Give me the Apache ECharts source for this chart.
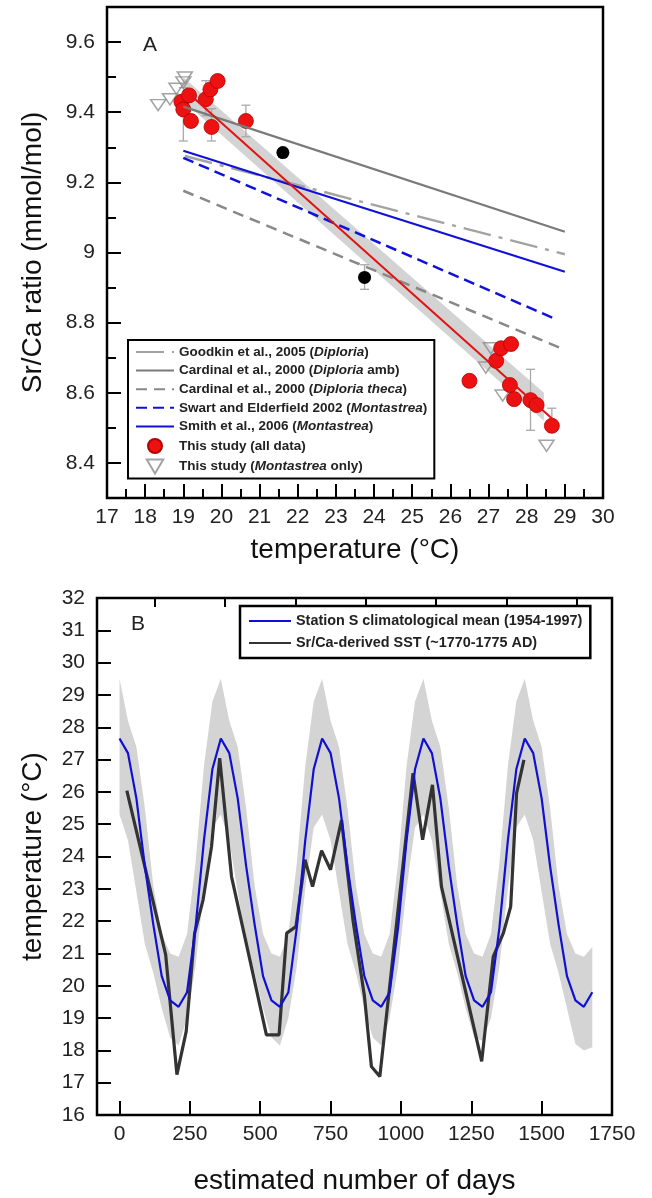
<!DOCTYPE html>
<html>
<head>
<meta charset="UTF-8">
<title>Sr/Ca calibration and derived SST</title>
<script src="https://cdn.jsdelivr.net/npm/echarts@6/dist/echarts.min.js"></script>
<style>
  html,body{margin:0;background:#fff;}
  #chart{width:652px;height:1198px;}
</style>
</head>
<body>
<div id="chart"></div>
<script>
// ---- panel A: Sr/Ca vs temperature ----
const allT = [18.95, 19.0, 19.15, 19.2, 19.59, 19.71, 19.9, 19.74, 20.64, 26.5, 27.2, 27.33, 27.59, 27.56, 27.67, 28.1, 28.26, 28.66];
const allV = [9.43, 9.408, 9.448, 9.375, 9.437, 9.465, 9.489, 9.358, 9.375, 8.634, 8.691, 8.727, 8.739, 8.622, 8.582, 8.579, 8.565, 8.506];
const montT = [18.34, 18.65, 18.82, 19.0, 19.04, 26.93, 27.06, 27.37, 28.52];
const montV = [9.42, 9.437, 9.467, 9.485, 9.499, 8.672, 8.727, 8.592, 8.449];
const blackT = [21.61, 23.75];
const blackV = [9.285, 8.929];
const errT  = [19.0, 19.59, 19.74, 20.64, 23.75, 28.1, 28.66];
const errLo = [9.318, 9.39, 9.318, 9.33, 8.895, 8.493, 8.489];
const errHi = [9.47, 9.49, 9.41, 9.42, 8.965, 8.667, 8.556];
const fitT = [19.2, 28.75];
const fitV = [9.448, 8.518];
const bandT  = [19.0, 28.45];
const bandLo = [9.432, 8.52];
const bandHi = [9.50, 8.60];
const goodkin = [[19.04, 9.275], [29.0, 8.995]];
const cardAmb = [[19.0, 9.416], [29.0, 9.059]];
const cardTheca = [[19.0, 9.176], [28.9, 8.727]];
const swart = [[19.0, 9.27], [28.72, 8.812]];
const smith = [[19.0, 9.29], [29.0, 8.945]];
const aMajorY = [8.4, 8.6, 8.8, 9.0, 9.2, 9.4, 9.6];

// ---- panel B: seasonal cycles ----
const bDays = [0,30,60,90,120,150,180,210,240,270,300,330,
  360,390,420,450,480,510,540,570,600,630,660,690,
  720,750,780,810,840,870,900,930,960,990,1020,1050,
  1080,1110,1140,1170,1200,1230,1260,1290,1320,1350,1380,1410,
  1440,1470,1500,1530,1560,1590,1620,1650,1680];
const climMean = [27.65,27.2,25.8,23.7,21.9,20.3,19.55,19.35,19.8,21.8,24.5,26.7,
  27.65,27.2,25.8,23.7,21.9,20.3,19.55,19.35,19.8,21.8,24.5,26.7,
  27.65,27.2,25.8,23.7,21.9,20.3,19.55,19.35,19.8,21.8,24.5,26.7,
  27.65,27.2,25.8,23.7,21.9,20.3,19.55,19.35,19.8,21.8,24.5,26.7,
  27.65,27.2,25.8,23.7,21.9,20.3,19.55,19.35,19.8];
const climUp = [29.5,28.2,27.4,25.5,23.1,21.6,21.0,20.9,21.6,23.8,26.8,28.8,
  29.5,28.2,27.4,25.5,23.1,21.6,21.0,20.9,21.6,23.8,26.8,28.8,
  29.5,28.2,27.4,25.5,23.1,21.6,21.0,20.9,21.6,23.8,26.8,28.8,
  29.5,28.2,27.4,25.5,23.1,21.6,21.0,20.9,21.6,23.8,26.8,28.8,
  29.5,28.2,27.4,25.5,23.1,21.6,21.0,20.9,21.2];
const climLo = [25.3,24.5,22.9,21.3,20.4,19.3,18.4,18.15,19.0,20.6,23.0,24.9,
  25.3,24.5,22.9,21.3,20.4,19.3,18.4,18.15,19.0,20.6,23.0,24.9,
  25.3,24.5,22.9,21.3,20.4,19.3,18.4,18.15,19.0,20.6,23.0,24.9,
  25.3,24.5,22.9,21.3,20.4,19.3,18.4,18.3,19.0,20.6,23.0,24.9,
  25.3,24.5,22.9,21.3,20.4,19.3,18.2,18.0,18.1];
const srDays = [26,164,204,237,267,297,327,356,398,522,567,594,627,659,686,718,750,789,830,870,895,925,1043,1077,1112,1144,1287,1328,1364,1390,1411,1437];
const srTemp = [26.04,20.96,17.25,18.59,21.63,22.66,24.31,27.04,23.38,18.48,18.48,21.63,21.83,23.9,23.07,24.18,23.59,25.13,22.0,19.7,17.5,17.19,26.58,24.52,26.22,23.07,17.66,20.9,21.63,22.45,25.96,26.99];
const bMajorX = [0,250,500,750,1000,1250,1500,1750];
const bMinorX = [125,375,625,875,1125,1375,1625];

const FONT = '"Liberation Sans", Arial, Helvetica, sans-serif';
const tick = {color:'#000', width:2};
const noLine = {show:false, onZero:false};

const legendFmt = {
  'Goodkin et al., 2005 (Diploria)': 'Goodkin et al., 2005 ({i|Diploria})',
  'Cardinal et al., 2000 (Diploria amb)': 'Cardinal et al., 2000 ({i|Diploria} amb)',
  'Cardinal et al., 2000 (Diploria theca)': 'Cardinal et al., 2000 ({i|Diploria theca})',
  'Swart and Elderfield 2002 (Montastrea)': 'Swart and Elderfield 2002 ({i|Montastrea})',
  'Smith et al., 2006 (Montastrea)': 'Smith et al., 2006 ({i|Montastrea})',
  'This study (all data)': 'This study (all data)',
  'This study (Montastrea only)': 'This study ({i|Montastrea} only)'
};
const lineNames = Object.keys(legendFmt).slice(0, 5);

function litLine(name, data, color, width, type){
  return {name, type:'line', xAxisIndex:0, yAxisIndex:0, data, symbol:'none', silent:true,
    lineStyle:{color, width, type}, itemStyle:{color}};
}

// shaded envelope between lo and hi, drawn as one polygon through the axes
function band(name, xi, yi, xs, lo, hi, color){
  return {name, type:'custom', xAxisIndex:xi, yAxisIndex:yi, silent:true,
    data:xs.map((x,i)=>[x, lo[i], hi[i]]), encode:{x:0, y:[1,2]},
    renderItem:(p, api) => {
      if (p.dataIndex !== 0) return;
      const top = xs.map((x,i)=>api.coord([x, hi[i]]));
      const bot = xs.map((x,i)=>api.coord([x, lo[i]])).reverse();
      return {type:'polygon', shape:{points:top.concat(bot)}, style:{fill:color}};
    }};
}

const chart = echarts.init(document.getElementById('chart'));
chart.setOption({
  animation:false,
  textStyle:{fontFamily:FONT},
  grid:[
    {left:107, top:7, width:496, height:491, show:true, borderColor:'#000', borderWidth:2.5, backgroundColor:'#fff', outerBoundsMode:'none'},
    {left:97, top:598, width:515, height:517, show:true, borderColor:'#000', borderWidth:2.5, backgroundColor:'#fff', outerBoundsMode:'none'}
  ],
  xAxis:[
    {type:'value', gridIndex:0, min:17, max:30, interval:1,
     axisLine:noLine, splitLine:{show:false},
     axisTick:{inside:true, length:14, lineStyle:tick},
     minorTick:{show:true, splitNumber:2, length:9, lineStyle:tick},
     axisLabel:{fontSize:21, color:'#222', margin:9, showMinLabel:true, showMaxLabel:true},
     name:'temperature (°C)', nameLocation:'middle', nameGap:38,
     nameTextStyle:{fontSize:28, color:'#111'}},
    {type:'value', gridIndex:1, min:-80, max:1750,
     axisLine:noLine, splitLine:{show:false},
     axisTick:{inside:true, length:14, customValues:bMajorX, lineStyle:tick},
     axisLabel:{customValues:bMajorX, fontSize:21, color:'#222', margin:9, formatter:v => String(v)},
     name:'estimated number of days', nameLocation:'middle', nameGap:52,
     nameTextStyle:{fontSize:28, color:'#111'}},
    {type:'value', gridIndex:1, min:-80, max:1750,
     axisLine:noLine, splitLine:{show:false},
     axisTick:{inside:true, length:9, customValues:bMinorX, lineStyle:tick},
     axisLabel:{show:false}}
  ],
  yAxis:[
    {type:'value', gridIndex:0, position:'left', min:8.3, max:9.7, interval:0.1,
     axisLine:noLine, splitLine:{show:false},
     axisTick:{inside:true, length:9, lineStyle:tick},
     axisLabel:{show:false}},
    {type:'value', gridIndex:0, position:'left', min:8.3, max:9.7,
     axisLine:noLine, splitLine:{show:false},
     axisTick:{inside:true, length:14, customValues:aMajorY, lineStyle:tick},
     axisLabel:{customValues:aMajorY, fontSize:21, color:'#222', margin:12,
       formatter:v => String(Math.round(v*10)/10)},
     name:'Sr/Ca ratio (mmol/mol)', nameLocation:'middle', nameGap:60,
     nameTextStyle:{fontSize:28, color:'#111'}},
    {type:'value', gridIndex:1, position:'left', min:16, max:32, interval:1,
     axisLine:noLine, splitLine:{show:false},
     axisTick:{inside:true, length:14, lineStyle:tick},
     axisLabel:{fontSize:21, color:'#222', margin:12, showMinLabel:true, showMaxLabel:true},
     name:'temperature (°C)', nameLocation:'middle', nameGap:50,
     nameTextStyle:{fontSize:28, color:'#111'}}
  ],
  legend:[
    {orient:'vertical', left:128, top:340, padding:[5,7,4,7], itemGap:4.6,
     itemWidth:38, itemHeight:14, borderColor:'#000', borderWidth:2, backgroundColor:'#fff',
     selectedMode:false,
     data:Object.keys(legendFmt).map(n => lineNames.includes(n) ? {name:n, itemStyle:{opacity:0}} : n),
     formatter:n => legendFmt[n] || n,
     textStyle:{fontSize:13.5, lineHeight:14, fontWeight:'bold', color:'#222',
       rich:{i:{fontSize:13.5, lineHeight:14, fontWeight:'bold', fontStyle:'italic', color:'#222'}}}},
    {orient:'vertical', left:240, top:606, padding:[8,8,8,8], itemGap:8,
     itemWidth:42, itemHeight:14, borderColor:'#000', borderWidth:2.5, backgroundColor:'#fff',
     selectedMode:false,
     data:[{name:'Station S climatological mean (1954-1997)', itemStyle:{opacity:0}},
           {name:'Sr/Ca-derived SST (~1770-1775 AD)', itemStyle:{opacity:0}}],
     textStyle:{fontSize:14.4, lineHeight:14, fontWeight:'bold', color:'#222'}}
  ],
  graphic:[
    {type:'text', left:143, top:35, style:{text:'A', fontSize:21, fill:'#222', fontFamily:FONT}},
    {type:'text', left:131, top:614, style:{text:'B', fontSize:21, fill:'#222', fontFamily:FONT}}
  ],
  series:[
    band('fitBand', 0, 0, bandT, bandLo, bandHi, '#d3d3d3'),
    litLine('Goodkin et al., 2005 (Diploria)', goodkin, '#a3a3a3', 2.5, [28,8,4,8]),
    litLine('Cardinal et al., 2000 (Diploria amb)', cardAmb, '#7a7a7a', 2.2, 'solid'),
    litLine('Cardinal et al., 2000 (Diploria theca)', cardTheca, '#888888', 2.5, [11,7]),
    litLine('Swart and Elderfield 2002 (Montastrea)', swart, '#1010d8', 2.5, [11,6]),
    litLine('Smith et al., 2006 (Montastrea)', smith, '#1010d8', 2, 'solid'),
    {name:'fit', type:'line', xAxisIndex:0, yAxisIndex:0, symbol:'none', silent:true,
     data:fitT.map((t,i)=>[t, fitV[i]]), lineStyle:{color:'#e31212', width:2}},
    {name:'err', type:'custom', xAxisIndex:0, yAxisIndex:0, silent:true,
     data:errT.map((t,i)=>[t, errLo[i], errHi[i]]), encode:{x:0, y:[1,2]},
     renderItem:(p, api) => {
       const t = api.value(0);
       const lo = api.coord([t, api.value(1)]);
       const hi = api.coord([t, api.value(2)]);
       const c = 4.5, st = {stroke:'#a9a9a9', lineWidth:1.3};
       return {type:'group', children:[
         {type:'line', shape:{x1:lo[0], y1:lo[1], x2:hi[0], y2:hi[1]}, style:st},
         {type:'line', shape:{x1:lo[0]-c, y1:lo[1], x2:lo[0]+c, y2:lo[1]}, style:st},
         {type:'line', shape:{x1:hi[0]-c, y1:hi[1], x2:hi[0]+c, y2:hi[1]}, style:st}
       ]};
     }},
    {name:'This study (Montastrea only)', type:'scatter', xAxisIndex:0, yAxisIndex:0, silent:true,
     data:montT.map((t,i)=>[t, montV[i]]),
     symbol:'path://M0,0L20,0L10,17Z', symbolSize:[15,13], symbolKeepAspect:true,
     itemStyle:{color:'rgba(255,255,255,0)', borderColor:'#8c8c8c', borderWidth:1.5}},
    {name:'This study (all data)', type:'scatter', xAxisIndex:0, yAxisIndex:0, silent:true,
     data:allT.map((t,i)=>[t, allV[i]]), symbolSize:15,
     itemStyle:{color:'#ee1111', borderColor:'#b30000', borderWidth:0.8, opacity:1}},
    {name:'black', type:'scatter', xAxisIndex:0, yAxisIndex:0, silent:true,
     data:blackT.map((t,i)=>[t, blackV[i]]), symbolSize:13,
     itemStyle:{color:'#000', opacity:1}},

    // panel B
    band('climEnvelope', 1, 2, bDays, climLo, climUp, '#d4d4d4'),
    {name:'Sr/Ca-derived SST (~1770-1775 AD)', type:'line', xAxisIndex:1, yAxisIndex:2, symbol:'none', silent:true,
     data:srDays.map((d,i)=>[d, srTemp[i]]), lineStyle:{color:'#333', width:3.2}, itemStyle:{color:'#333'}},
    {name:'Station S climatological mean (1954-1997)', type:'line', xAxisIndex:1, yAxisIndex:2, symbol:'none', silent:true,
     data:bDays.map((d,i)=>[d, climMean[i]]), lineStyle:{color:'#1010d2', width:2.2}, itemStyle:{color:'#1010d2'}}
  ]
});
</script>
</body>
</html>
